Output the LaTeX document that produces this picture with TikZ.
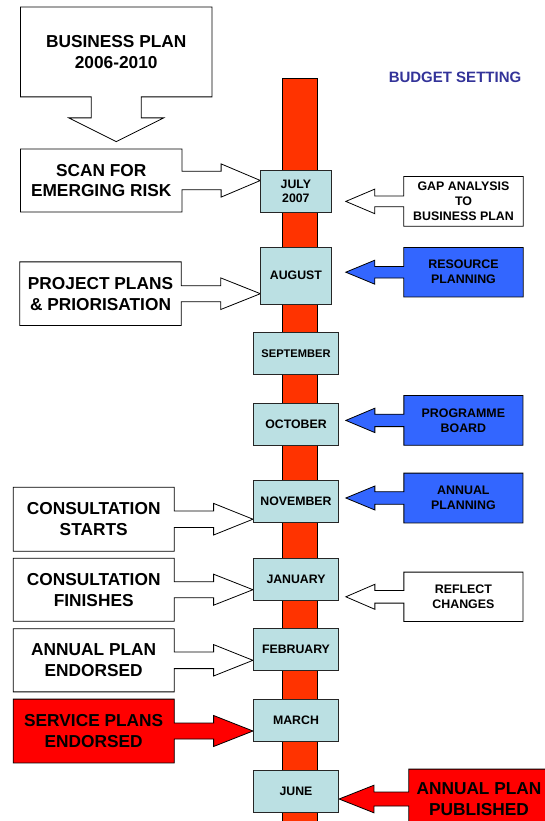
\documentclass[tikz,border=0pt]{standalone}
\usepackage{fontspec}
\setmainfont{Liberation Sans}
\usepackage{tikz}
\usetikzlibrary{calc,backgrounds}

\definecolor{barred}{HTML}{FF3300}
\definecolor{monthblue}{HTML}{BBE0E3}
\definecolor{inputblue}{HTML}{3366FF}
\definecolor{alertred}{HTML}{FF0000}
\definecolor{budgetblue}{HTML}{333399}

\newcommand{\bigtext}{\fontsize{17.3}{20.7}\selectfont\bfseries}
\newcommand{\smalltext}{\fontsize{12.4}{15}\selectfont\bfseries}

\tikzset{
  boxline/.style={draw=black,line width=0.8pt,line join=miter},
  month/.style={draw=black!85,fill=monthblue,line width=0.8pt,align=center,inner sep=0pt,
    font=\fontsize{12.3}{14}\selectfont\bfseries,minimum width=85.3pt,minimum height=42pt},
  card/.style={inner sep=0pt,align=center,font=\bigtext,minimum width=160.7pt,minimum height=63pt},
  note/.style={inner sep=0pt,align=center,font=\smalltext,minimum width=118.7pt,minimum height=49.3pt},
}

% box with an arrow growing out of one side:
% [fill]{box}{side with arrow}{other side}{tip}{half shaft}{half head}
\newcommand{\arrowbox}[7][white]{%
  \draw[boxline,fill=#1] let \p1=(#2.#3), \p2=(#5), \p3=($(\p1)!.5!(\p2)$) in
    (#2.north #4) -- (#2.north #3) -- (\x1,\y1+#6) -- (\x3,\y1+#6) -- (\x3,\y1+#7)
    -- (\p2) -- (\x3,\y1-#7) -- (\x3,\y1-#6) -- (\x1,\y1-#6)
    -- (#2.south #3) -- (#2.south #4) -- cycle;}

\begin{document}
\begin{tikzpicture}[x=1pt,y=-1pt]
\useasboundingbox (0,0) rectangle (545,821);

% months on the timeline
\node[month,minimum width=70.3pt,minimum height=42.3pt] (jul) at (295.9,191.2) {JULY\\2007};
\node[month,minimum width=70.3pt,minimum height=56.7pt] (aug) at (295.9,275.7) {AUGUST};
\node[month,font=\fontsize{11.1}{13}\selectfont\bfseries] (sep) at (296,353.3) {SEPTEMBER};
\node[month] (oct) at (296,424.3) {OCTOBER};
\node[month] (nov) at (296,501.7) {NOVEMBER};
\node[month,minimum height=41.7pt] (jan) at (296,579.2) {JANUARY};
\node[month,minimum height=42.4pt] (feb) at (296,649.5) {FEBRUARY};
\node[month,minimum height=42.4pt] (mar) at (296,720.5) {MARCH};
\node[month] (jun) at (296,791) {JUNE};

% milestones on the left
\node[card,minimum width=191pt,minimum height=89.4pt] (plan) at (116.2,52) {BUSINESS PLAN\\2006-2010};
\node[card,minimum width=161pt,minimum height=62.4pt] (scan) at (101.2,180.5) {SCAN FOR\\EMERGING RISK};
\node[card,minimum width=161pt,minimum height=63.3pt] (proj) at (100.5,293.7) {PROJECT PLANS\\\& PRIORISATION};
\node[card,minimum height=63.7pt] (starts) at (93.7,519.2) {CONSULTATION\\STARTS};
\node[card,minimum height=62.7pt] (finish) at (93.7,589.7) {CONSULTATION\\FINISHES};
\node[card,minimum height=62.7pt] (endorse) at (93.7,660.3) {ANNUAL PLAN\\ENDORSED};
\node[card,minimum height=63.4pt] (service) at (93.7,731) {SERVICE PLANS\\ENDORSED};

% inputs on the right
\node[font=\fontsize{15}{18}\selectfont\bfseries,text=budgetblue] (budget) at (455,77.8) {BUDGET SETTING};
\node[note,minimum width=119pt] (gap) at (463.5,201.4) {GAP ANALYSIS\\TO\\BUSINESS PLAN};
\node[note,minimum width=119pt,minimum height=49pt] (resource) at (463.5,272.2) {RESOURCE\\PLANNING};
\node[note] (board) at (463.4,420.4) {PROGRAMME\\BOARD};
\node[note,minimum height=49.4pt] (annual) at (463.4,498) {ANNUAL\\PLANNING};
\node[note,minimum height=49pt] (reflect) at (463.4,596.8) {REFLECT\\CHANGES};
\node[card,minimum width=140pt,minimum height=59.4pt] (publish) at (479,799) {ANNUAL PLAN\\PUBLISHED};

\begin{scope}[on background layer]
\clip (0,0) rectangle (545,821);
% the timeline bar
\draw[boxline,fill=barred] (282.3,78.3) rectangle (317.3,830);

% business plan feeds the scan
\draw[boxline,fill=white] let \p1=(plan.south), \p2=($(plan.south)+(0,44.7)$) in
  (plan.south west) -- (plan.north west) -- (plan.north east) -- (plan.south east)
  -- (\x1+25,\y1) -- (\x1+25,\y1-21) -- (\x1+47.5,\y1-21) -- (\p2)
  -- (\x1-47.5,\y1-21) -- (\x1-25,\y1-21) -- (\x1-25,\y1) -- cycle;

\arrowbox{scan}{east}{west}{jul.west |- scan.east}{9.2}{16.6}
\arrowbox{proj}{east}{west}{aug.west |- proj.east}{8}{15.8}
\arrowbox{starts}{east}{west}{nov.west |- starts.east}{8.3}{15.8}
\arrowbox{finish}{east}{west}{jan.west |- finish.east}{8}{15.5}
\arrowbox{endorse}{east}{west}{feb.west |- endorse.east}{8.3}{15.7}
\arrowbox[alertred]{service}{east}{west}{mar.west |- service.east}{8}{15.5}

\arrowbox{gap}{west}{east}{$(gap.west)+(-58,0)$}{5.4}{12.3}
\arrowbox[inputblue]{resource}{west}{east}{$(resource.west)+(-58,0)$}{5.8}{12}
\arrowbox[inputblue]{board}{west}{east}{$(board.west)+(-58,0)$}{6.2}{12.2}
\arrowbox[inputblue]{annual}{west}{east}{$(annual.west)+(-58,0)$}{6.3}{12}
\arrowbox{reflect}{west}{east}{$(reflect.west)+(-58,0)$}{6.3}{12.5}
\arrowbox[alertred]{publish}{west}{east}{$(publish.west)+(-69.7,0)$}{7}{13.8}
\end{scope}
\end{tikzpicture}
\end{document}
